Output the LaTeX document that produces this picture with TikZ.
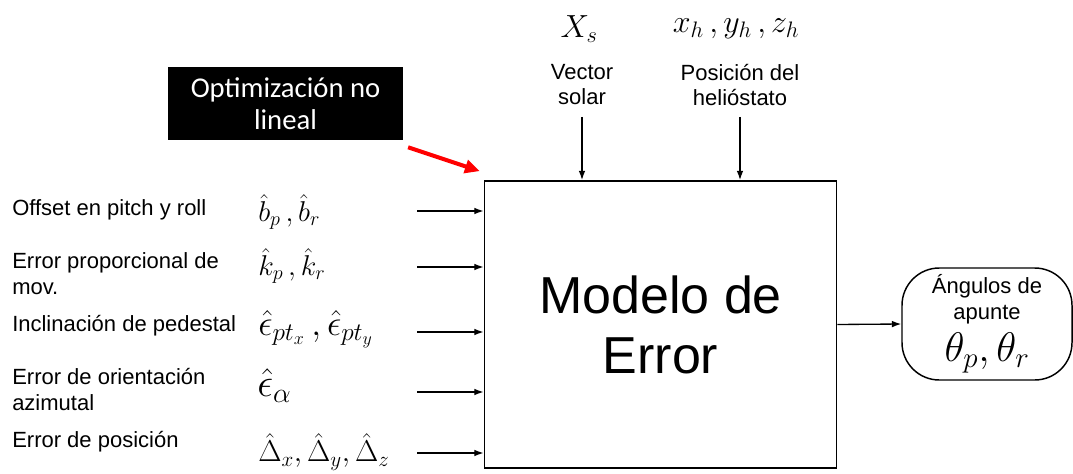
\documentclass[tikz,border=0pt]{standalone}
\usepackage{fix-cm}
\usepackage{fontspec}
\setmainfont{Liberation Sans}
\newfontfamily\calib{Carlito}
\usetikzlibrary{arrows.meta}

\begin{document}
\begin{tikzpicture}[x=0.75pt,y=-0.75pt,>={Latex[length=7pt,width=5pt]},
  lbl/.style={anchor=west,align=left,inner xsep=0pt,font=\fontsize{16.5}{19.5}\selectfont},
  sym/.style={anchor=west,inner xsep=0pt,font=\fontsize{21.5}{26}\selectfont},
  symg/.style={sym,font=\fontsize{25}{28}\selectfont},
  toplbl/.style={align=center,font=\fontsize{16.5}{18.75}\selectfont},
  topsym/.style={font=\fontsize{24}{30}\selectfont},
  flecha/.style={->,line width=1pt}]
\useasboundingbox (0,0) rectangle (1073,474);

% bloque central
\node[draw,line width=1.3pt,minimum width=264pt,minimum height=215.25pt,inner sep=0pt,
  align=center,font=\fontsize{39}{45}\selectfont] (modelo) at (660.5,324.5) {Modelo de\\Error};

% optimizacion
\node[fill=black,text=white,align=center,minimum width=176pt,minimum height=54.75pt,
  font=\calib\fontsize{21.5}{24}\selectfont] (opt) at (285.5,103.5) {Optimización no\\lineal};
\draw[red,line width=3pt,-{Triangle[length=11pt,width=10pt]}] ([shift={(5,7)}]opt.south east) -- ([shift={(-4,-9)}]modelo.north west);

% entradas superiores
\node[topsym] (xs) at (579,29) {$X_s$};
\node[toplbl] (vsol) at (582,85) {Vector\\solar};
\coordinate (vsolarr) at (582,117);
\draw[flecha] (vsolarr) -- (vsolarr |- modelo.north);

\node[topsym] (xh) at (736,29) {$x_h\,,y_h\,,z_h$};
\node[toplbl] (poshel) at (740,85) {Posición del\\helióstato};
\coordinate (poshelarr) at (740,117);
\draw[flecha] (poshelarr) -- (poshelarr |- modelo.north);

% entradas laterales
\node[lbl] (off) at (12,210) {Offset en pitch y roll};
\node[sym] (offsym) at (258,212) {$\hat{b}_p\,,\hat{b}_r$};
\coordinate (offarr) at (417,211);
\draw[flecha] (offarr) -- (offarr -| modelo.west);

\node[lbl] (prop) at (12,274) {Error proporcional de\\mov.};
\node[sym] (propsym) at (258,266) {$\hat{k}_p\,,\hat{k}_r$};
\coordinate (proparr) at (417,267);
\draw[flecha] (proparr) -- (proparr -| modelo.west);

\node[lbl] (incl) at (12,326) {Inclinación de pedestal};
\node[symg,scale=1.08,transform shape] (inclsym) at (258,329) {$\hat{\epsilon}_{pt_x}\,,\hat{\epsilon}_{pt_y}$};
\coordinate (inclarr) at (417,332);
\draw[flecha] (inclarr) -- (inclarr -| modelo.west);

\node[symg,scale=1.2,transform shape] (azimsym) at (257,386) {$\hat{\epsilon}_\alpha$};
\node[lbl] (azim) at (12,390) {Error de orientación\\azimutal};
\coordinate (azimarr) at (417,392);
\draw[flecha] (azimarr) -- (azimarr -| modelo.west);

\node[lbl] (pos) at (12,442) {Error de posición};
\node[sym,scale=1.05,transform shape] (possym) at (258,452) {$\hat{\Delta}_x,\hat{\Delta}_y,\hat{\Delta}_z$};
\coordinate (posarr) at (417,453);
\draw[flecha] (posarr) -- (posarr -| modelo.west);

% salida
\node[draw,line width=1.1pt,rounded corners=28pt,minimum width=127.5pt,minimum height=84pt,
  align=center,inner sep=0pt,font=\fontsize{16.5}{19.5}\selectfont] (salida) at (987,324)
  {Ángulos de\\apunte\\[5pt]\fontsize{31}{26}\selectfont$\theta_p,\theta_r$};
\draw[flecha] (modelo.east) -- (salida.west);
\end{tikzpicture}
\end{document}
